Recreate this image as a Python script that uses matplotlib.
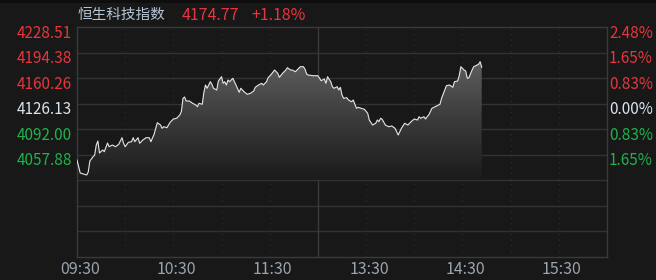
import numpy as np
import matplotlib
matplotlib.use("Agg")
import matplotlib.pyplot as plt
from matplotlib.colors import LinearSegmentedColormap
from matplotlib.patches import Rectangle
import matplotlib.transforms as mtransforms

plt.rcParams['font.family'] = ['Noto Sans CJK SC', 'DejaVu Sans']

# ---- data (trading minutes since 09:30, lunch break removed) ----
title_name = "恒生科技指数"
last_price = "4174.77"
last_change = "+1.18%"
prev_close = 4126.13

minutes = [0, 1, 2, 4, 6, 7, 8, 10, 11, 12, 13, 14, 16, 17, 19, 20, 22, 24, 26, 28,
           29, 30, 32, 34, 35, 36, 38, 39, 41, 43, 45, 46, 48, 50, 52, 53, 54, 56, 58, 60,
           62, 64, 65, 66, 67, 68, 70, 72, 74, 75, 76, 78, 79, 80, 81, 83, 84, 85, 87, 88,
           90, 91, 92, 93, 94, 95, 96, 97, 99, 101, 102, 104, 106, 108, 110, 111, 113, 115, 116, 118,
           119, 121, 123, 125, 126, 128, 130, 131, 133, 134, 136, 137, 139, 141, 142, 143, 144, 147, 150, 151,
           152, 154, 155, 156, 158, 159, 160, 162, 163, 164, 165, 166, 168, 169, 171, 172, 174, 175, 177, 179,
           181, 182, 184, 186, 187, 188, 189, 190, 192, 194, 196, 198, 200, 202, 204, 206, 208, 210, 212, 213,
           214, 216, 217, 218, 219, 221, 223, 225, 226, 227, 229, 230, 232, 234, 235, 237, 238, 239, 241, 242,
           243, 244, 246, 247, 250, 251, 252]
prices = [4050.90, 4041.96, 4033.54, 4032.21, 4030.87, 4034.88, 4049.57, 4055.31, 4057.58, 4070.93,
          4076.27, 4060.25, 4064.26, 4061.99, 4073.60, 4068.66, 4070.93, 4068.66, 4071.87, 4080.68,
          4073.20, 4068.66, 4074.54, 4075.34, 4080.68, 4075.34, 4080.68, 4073.20, 4077.61, 4080.68,
          4080.68, 4075.34, 4085.22, 4100.71, 4097.64, 4093.23, 4095.37, 4094.04, 4101.25, 4105.65,
          4106.59, 4110.99, 4115.67, 4133.30, 4135.03, 4129.69, 4129.69, 4126.62, 4124.35, 4122.08,
          4126.62, 4125.28, 4141.31, 4151.06, 4146.65, 4155.46, 4151.99, 4146.65, 4144.38, 4156.40,
          4162.14, 4153.33, 4155.46, 4151.06, 4157.73, 4155.46, 4157.73, 4160.00, 4151.06, 4141.31,
          4146.65, 4142.11, 4138.64, 4139.97, 4143.04, 4147.99, 4151.06, 4153.33, 4151.06, 4155.46,
          4160.81, 4165.35, 4171.09, 4166.68, 4161.34, 4166.68, 4171.09, 4174.16, 4171.09, 4171.09,
          4168.82, 4171.09, 4175.50, 4175.50, 4172.02, 4165.75, 4164.41, 4163.48, 4163.48, 4160.00,
          4156.80, 4159.07, 4153.33, 4162.14, 4155.46, 4148.79, 4146.65, 4148.79, 4144.38, 4147.99,
          4137.70, 4133.30, 4134.10, 4131.03, 4128.76, 4131.03, 4119.94, 4121.28, 4119.94, 4118.61,
          4113.26, 4104.32, 4097.64, 4099.91, 4104.32, 4102.05, 4106.59, 4105.25, 4097.64, 4095.37,
          4096.31, 4093.23, 4084.29, 4093.23, 4099.91, 4097.64, 4102.05, 4105.65, 4104.32, 4108.73,
          4106.59, 4108.73, 4105.65, 4108.73, 4110.99, 4119.94, 4122.08, 4124.35, 4125.28, 4133.30,
          4144.38, 4150.12, 4151.06, 4147.99, 4155.46, 4156.40, 4163.48, 4175.50, 4171.09, 4169.75,
          4160.00, 4160.81, 4171.09, 4175.50, 4178.70, 4182.17, 4174.77]

price_labels = ["4228.51", "4194.38", "4160.26", "4126.13", "4092.00", "4057.88"]
pct_labels = ["2.48%", "1.65%", "0.83%", "0.00%", "0.83%", "1.65%"]
time_ticks = [0, 60, 120, 180, 240, 300]
time_labels = ["09:30", "10:30", "11:30", "13:30", "14:30", "15:30"]

# ---- colours ----
BG = "#181818"
RED = "#e8353d"
GREEN = "#1fb24c"
NEUTRAL = "#d8e4ef"
GRID = "#323232"

top = 4228.51
step = (top - 4057.88) / 5
bottom = top - 9 * step
levels = [top - i * step for i in range(10)]

fig = plt.figure(figsize=(6.56, 2.8), dpi=100, facecolor=BG)
fig.patches.append(Rectangle((0, 277 / 280), 1, 3 / 280, transform=fig.transFigure,
                             facecolor="#0e0e0e", edgecolor="none"))
ax = fig.add_axes([77 / 656, 23 / 280, 530 / 656, 230 / 280])
ax.set_facecolor(BG)
ax.set_xlim(0, 330)
ax.set_ylim(bottom, top)

for s in ax.spines.values():
    s.set_color("#3a3a3a")
    s.set_linewidth(1)

for lv in levels[1:-1]:
    ax.axhline(lv, color=GRID, lw=1, zorder=1)
for m in range(30, 330, 30):
    if m == 150:
        ax.axvline(m, color="#3a3a3a", lw=1, zorder=1)
    else:
        ax.axvline(m, color="#2e2e2e", lw=0.8, ls=(0, (1, 4)), zorder=1)

# gradient fill under line
floor = levels[6]
poly = ax.fill_between(minutes, prices, floor, color="none", lw=0)
cmap = LinearSegmentedColormap.from_list("g", ["#1b1b1b", "#3a3a3a", "#5e5e5e"])
grad = np.linspace(0, 1, 256).reshape(-1, 1)
im = ax.imshow(grad, extent=[0, max(minutes), floor, max(prices)], origin="lower",
               aspect="auto", cmap=cmap, zorder=2)
im.set_clip_path(poly.get_paths()[0], transform=ax.transData)

ax.plot(minutes, prices, color="#e6e6e6", lw=0.8, zorder=3)

# axis labels
ax.set_xticks(time_ticks)
ax.set_xticklabels(time_labels)
ax.set_yticks([])
ax.tick_params(axis="x", length=0, pad=3, labelsize=11.5, labelcolor="#98a4b0")
off = mtransforms.ScaledTranslation(3 / 100, 0, fig.dpi_scale_trans)
for lab in ax.get_xticklabels():
    lab.set_transform(lab.get_transform() + off)

for i, (pl, cl) in enumerate(zip(price_labels, pct_labels)):
    val = levels[i]
    if val > prev_close + 0.01:
        c = RED
    elif val < prev_close - 0.01:
        c = GREEN
    else:
        c = NEUTRAL
    ax.annotate(pl, xy=(0, val), xycoords=("axes fraction", "data"),
                xytext=(-5, -6), textcoords="offset pixels",
                ha="right", va="center", color=c, fontsize=11)
    ax.annotate(cl, xy=(1, val), xycoords=("axes fraction", "data"),
                xytext=(2, -6), textcoords="offset pixels",
                ha="left", va="center", color=c, fontsize=11)

# title line
fig.text(78 / 656, 1 - 15 / 280, title_name, color="#b5c4d4", fontsize=10.5,
         ha="left", va="center")
fig.text(182 / 656, 1 - 15 / 280, last_price, color=RED, fontsize=11.5,
         ha="left", va="center")
fig.text(251 / 656, 1 - 15 / 280, last_change, color=RED, fontsize=11.5,
         ha="left", va="center")

fig.savefig("out.png", dpi=100, facecolor=BG)
